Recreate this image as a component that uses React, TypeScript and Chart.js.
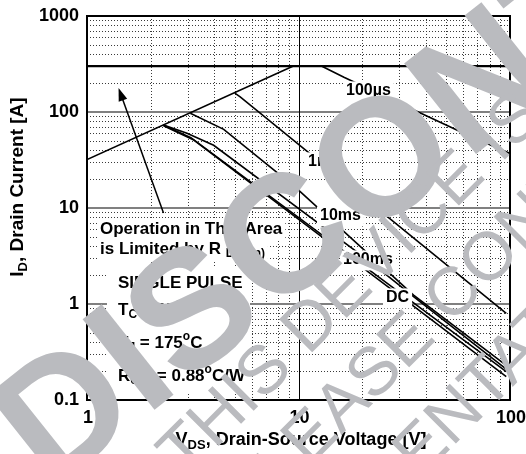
import React, { useEffect, useRef } from "react";
import { Chart, registerables } from "chart.js";
Chart.register(...registerables);

const X_MIN = 1;
const X_MAX = 100;
const Y_MIN = 0.1;
const Y_MAX = 1000;
const xTickValues = [1, 10, 100];
const xTickLabels = ["1", "10", "100"];
const yTickValues = [0.1, 1, 10, 100, 1000];
const yTickLabels = ["0.1", "1", "10", "100", "1000"];
const minorSteps = [2, 3, 4, 5, 6, 7, 8, 9];

// Safe operating area boundaries (V, A)
const rdsLimitV = [1, 9.4];
const rdsLimitI = [32, 300];
const currentLimitV = [1, 100];
const currentLimitI = [300, 300];
const pulse100usV = [12.9, 16.4, 29, 43.6, 63, 100];
const pulse100usI = [300, 230, 128, 84, 57.5, 37];
const pulse1msV = [5.0, 5.3, 96];
const pulse1msI = [157, 144, 0.8];
const pulse10msV = [3.08, 4.43, 9.8, 35, 96];
const pulse10msI = [97, 66, 16, 1.24, 0.23];
const pulse100msV = [2.3, 2.97, 3.97, 21.3, 35, 96];
const pulse100msI = [73, 60, 45, 2.87, 1.19, 0.21];
const dcUpperV = [2.3, 3.1, 35, 96];
const dcUpperI = [73, 54, 1.03, 0.197];
const dcV = [2.3, 3.2, 35, 96];
const dcI = [72, 51, 0.95, 0.175];
const arrowV = [2.3, 1.41];
const arrowI = [8.87, 178];

const FONT = '"Liberation Sans", Arial, Helvetica, sans-serif';
const GRAY_WM = "rgb(186,187,191)";

type Part = { t: string; s?: "n" | "sub" | "sup" };

function partFont(p: Part, size: number, weight = "bold") {
  const sz = p.s && p.s !== "n" ? Math.round(size * 0.7) : size;
  return `${weight} ${sz}px ${FONT}`;
}
function richWidth(ctx: CanvasRenderingContext2D, parts: Part[], size: number) {
  let w = 0;
  for (const p of parts) {
    ctx.font = partFont(p, size);
    w += ctx.measureText(p.t).width;
  }
  return w;
}
function drawRich(
  ctx: CanvasRenderingContext2D,
  parts: Part[],
  x: number,
  y: number,
  size: number,
  align: "left" | "center" = "left",
  bg = false
) {
  const w = richWidth(ctx, parts, size);
  let cx = align === "center" ? x - w / 2 : x;
  if (bg) {
    ctx.fillStyle = "#fff";
    ctx.fillRect(cx - 3, y - size * 0.6, w + 6, size * 1.25);
  }
  ctx.fillStyle = "#000";
  ctx.textBaseline = "middle";
  ctx.textAlign = "left";
  for (const p of parts) {
    ctx.font = partFont(p, size);
    const dy = p.s === "sub" ? size * 0.3 : p.s === "sup" ? -size * 0.38 : 0;
    ctx.fillText(p.t, cx, y + dy);
    cx += ctx.measureText(p.t).width;
  }
}

const toPoints = (xs: number[], ys: number[]) => xs.map((x, i) => ({ x, y: ys[i] }));

const overlayPlugin = {
  id: "soaOverlay",
  beforeDatasetsDraw(chart: any) {
    const { ctx, chartArea: a, scales } = chart;
    const xs = scales.x;
    const ys = scales.y;
    ctx.save();
    // minor dotted grid
    ctx.strokeStyle = "#3a3a3a";
    ctx.lineWidth = 1;
    ctx.setLineDash([1, 2]);
    for (let d = Y_MIN; d < Y_MAX * 0.99; d *= 10) {
      for (const m of minorSteps) {
        const y = Math.round(ys.getPixelForValue(d * m)) + 0.5;
        ctx.beginPath();
        ctx.moveTo(a.left, y);
        ctx.lineTo(a.right, y);
        ctx.stroke();
      }
    }
    for (let d = X_MIN; d < X_MAX * 0.99; d *= 10) {
      for (const m of minorSteps) {
        const x = Math.round(xs.getPixelForValue(d * m)) + 0.5;
        ctx.beginPath();
        ctx.moveTo(x, a.top);
        ctx.lineTo(x, a.bottom);
        ctx.stroke();
      }
    }
    ctx.setLineDash([]);
    // major grid
    ctx.strokeStyle = "#808080";
    ctx.lineWidth = 2;
    for (const v of yTickValues) {
      const y = ys.getPixelForValue(v);
      ctx.beginPath();
      ctx.moveTo(a.left, y);
      ctx.lineTo(a.right, y);
      ctx.stroke();
    }
    ctx.strokeStyle = "#000";
    ctx.lineWidth = 1;
    for (const v of xTickValues) {
      const x = Math.round(xs.getPixelForValue(v)) + 0.5;
      ctx.beginPath();
      ctx.moveTo(x, a.top);
      ctx.lineTo(x, a.bottom);
      ctx.stroke();
    }
    ctx.restore();
  },
  afterDatasetsDraw(chart: any) {
    const { ctx, chartArea: a, scales } = chart;
    const xs = scales.x;
    const ys = scales.y;
    ctx.save();
    // frame
    ctx.strokeStyle = "#000";
    ctx.lineWidth = 2;
    ctx.strokeRect(a.left, a.top, a.right - a.left, a.bottom - a.top);

    // arrow
    const x0 = xs.getPixelForValue(arrowV[0]);
    const y0 = ys.getPixelForValue(arrowI[0]);
    const x1 = xs.getPixelForValue(arrowV[1]);
    const y1 = ys.getPixelForValue(arrowI[1]);
    const ang = Math.atan2(y1 - y0, x1 - x0);
    ctx.lineWidth = 1.5;
    ctx.beginPath();
    ctx.moveTo(x0, y0);
    ctx.lineTo(x1 - Math.cos(ang) * 8, y1 - Math.sin(ang) * 8);
    ctx.stroke();
    ctx.fillStyle = "#000";
    ctx.beginPath();
    ctx.moveTo(x1, y1);
    ctx.lineTo(x1 - Math.cos(ang) * 13 + Math.sin(ang) * 4.5, y1 - Math.sin(ang) * 13 - Math.cos(ang) * 4.5);
    ctx.lineTo(x1 - Math.cos(ang) * 13 - Math.sin(ang) * 4.5, y1 - Math.sin(ang) * 13 + Math.cos(ang) * 4.5);
    ctx.closePath();
    ctx.fill();

    // curve labels
    const fs = 16;
    drawRich(ctx, [{ t: "100µs" }], 346, 91, fs, "left", true);
    drawRich(ctx, [{ t: "1ms" }], 308, 162, fs, "left", true);
    drawRich(ctx, [{ t: "10ms" }], 320, 216, fs, "left", true);
    drawRich(ctx, [{ t: "100ms" }], 343, 260, fs, "left", true);
    drawRich(ctx, [{ t: "DC" }], 386, 298, fs, "left", true);

    // annotation block
    drawRich(ctx, [{ t: "Operation in This Area" }], 100, 229, 17, "left", true);
    drawRich(
      ctx,
      [{ t: "is Limited by R " }, { t: "DS(on)", s: "sub" }],
      100,
      249,
      17,
      "left",
      true
    );
    ctx.fillStyle = "#fff";
    ctx.fillRect(107, 268, 143, 124);
    drawRich(ctx, [{ t: "SINGLE PULSE" }], 118, 283, 17);
    drawRich(ctx, [{ t: "T" }, { t: "C", s: "sub" }, { t: " = 25" }, { t: "o", s: "sup" }, { t: "C" }], 118, 310, 17);
    drawRich(ctx, [{ t: "T" }, { t: "J", s: "sub" }, { t: " = 175" }, { t: "o", s: "sup" }, { t: "C" }], 118, 343, 17);
    drawRich(
      ctx,
      [{ t: "R" }, { t: "θJC", s: "sub" }, { t: " = 0.88" }, { t: "o", s: "sup" }, { t: "C/W" }],
      118,
      376,
      17
    );

    // tick labels
    ctx.fillStyle = "#000";
    ctx.font = `bold 18px ${FONT}`;
    ctx.textBaseline = "middle";
    ctx.textAlign = "right";
    yTickValues.forEach((v, i) => {
      ctx.fillText(yTickLabels[i], 79, ys.getPixelForValue(v));
    });
    ctx.textAlign = "center";
    xTickValues.forEach((v, i) => {
      ctx.fillText(xTickLabels[i], xs.getPixelForValue(v) + 1, 418);
    });

    // axis titles
    drawRich(
      ctx,
      [{ t: "V" }, { t: "DS", s: "sub" }, { t: ", Drain-Source Voltage [V]" }],
      301,
      440,
      18,
      "center"
    );
    ctx.save();
    ctx.translate(18, 187);
    ctx.rotate(-Math.PI / 2);
    drawRich(ctx, [{ t: "I" }, { t: "D", s: "sub" }, { t: ", Drain Current [A]" }], 0, 0, 19, "center");
    ctx.restore();
    ctx.restore();
  },
  afterDraw(chart: any) {
    const { ctx } = chart;
    ctx.save();
    ctx.fillStyle = GRAY_WM;
    ctx.textBaseline = "middle";
    ctx.textAlign = "left";
    // big watermark
    ctx.save();
    ctx.translate(22, 456);
    ctx.rotate((-38.5 * Math.PI) / 180);
    ctx.font = `bold 168px ${FONT}`;
    ctx.fillText("DISCONTINUED", 0, 0);
    ctx.restore();
    // notice watermark
    ctx.save();
    ctx.font = `68px ${FONT}`;
    const lines: [string, number, number][] = [
      ["THIS DEVICE IS DISCONTINUED", 172, 466],
      ["PLEASE CONTACT YOUR", 237, 513],
      ["REPRESENTATIVE", 209, 664],
    ];
    for (const [t, x, y] of lines) {
      ctx.save();
      ctx.translate(x, y);
      ctx.rotate(-Math.PI / 4);
      ctx.fillText(t, 0, 0);
      ctx.restore();
    }
    ctx.restore();
    ctx.restore();
  },
};

function ds(label: string, xs: number[], ys: number[], width = 1.6) {
  return {
    label,
    data: toPoints(xs, ys),
    borderColor: "#000",
    backgroundColor: "#000",
    borderWidth: width,
    pointRadius: 0,
    showLine: true,
    fill: false,
    tension: 0,
  };
}

export default function App() {
  const ref = useRef<HTMLCanvasElement | null>(null);
  useEffect(() => {
    if (!ref.current) return;
    const chart = new Chart(ref.current, {
      type: "line",
      data: {
        datasets: [
          ds("RDS(on) limit", rdsLimitV, rdsLimitI),
          ds("Current limit", currentLimitV, currentLimitI, 2.2),
          ds("100µs", pulse100usV, pulse100usI),
          ds("1ms", pulse1msV, pulse1msI),
          ds("10ms", pulse10msV, pulse10msI),
          ds("100ms", pulse100msV, pulse100msI),
          ds("DC (upper)", dcUpperV, dcUpperI),
          ds("DC", dcV, dcI),
        ] as any,
      },
      options: {
        animation: false,
        responsive: false,
        devicePixelRatio: 1,
        layout: { padding: { left: 87, top: 16, right: 16, bottom: 54 } },
        plugins: { legend: { display: false }, tooltip: { enabled: false } },
        scales: {
          x: { type: "logarithmic", min: X_MIN, max: X_MAX, display: false },
          y: { type: "logarithmic", min: Y_MIN, max: Y_MAX, display: false },
        },
      },
      plugins: [overlayPlugin],
    });
    return () => chart.destroy();
  }, []);
  return (
    <div style={{ position: "fixed", left: 0, top: 0, width: 526, height: 454, background: "#fff" }}>
      <canvas ref={ref} width={526} height={454} style={{ display: "block" }} />
    </div>
  );
}
